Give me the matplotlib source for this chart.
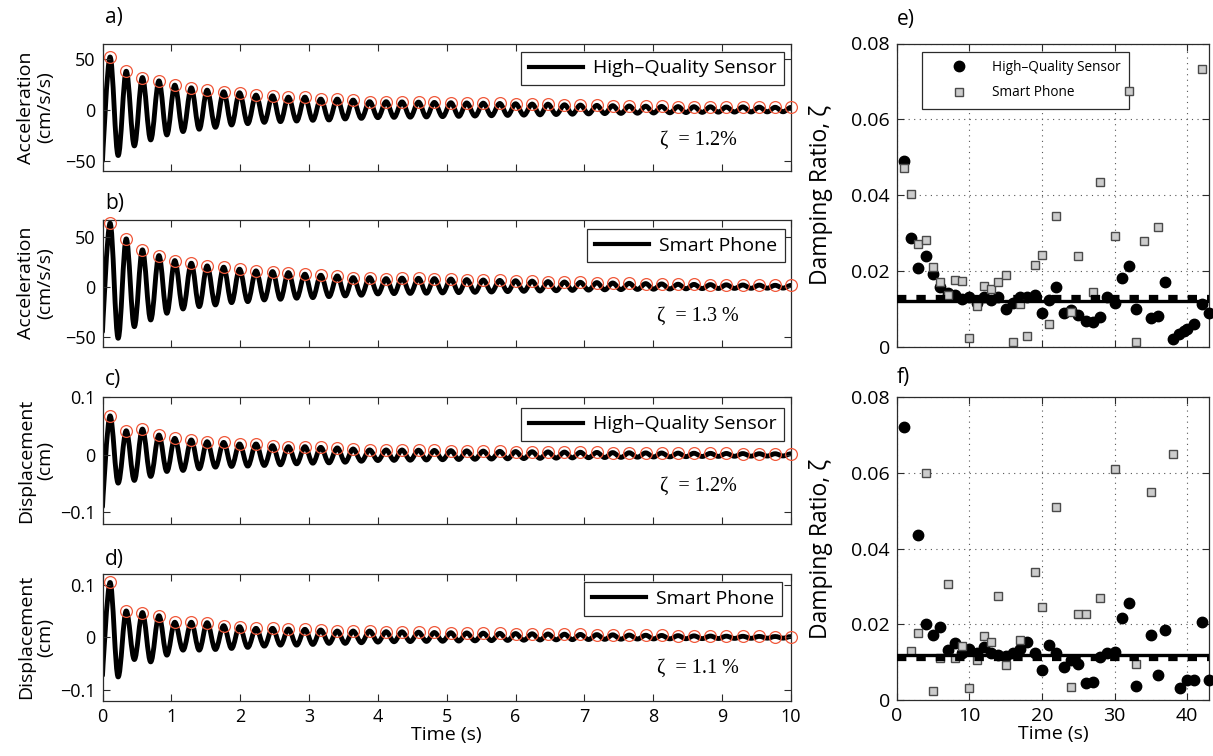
import numpy as np
import matplotlib
matplotlib.use("Agg")
import matplotlib.pyplot as plt
from matplotlib.path import Path
from matplotlib.patches import PathPatch
from matplotlib.lines import Line2D
from matplotlib.ticker import FuncFormatter

plt.rcParams['font.family'] = ['Open Sans', 'DejaVu Sans']

# ---------------- data: time histories (peak times / peak & trough values) -------------
peak_times = [0.11, 0.345, 0.58, 0.82, 1.05, 1.29, 1.52, 1.76, 1.99, 2.23, 2.47, 2.70,
              2.94, 3.17, 3.41, 3.64, 3.88, 4.12, 4.35, 4.59, 4.82, 5.06, 5.29, 5.53,
              5.77, 6.00, 6.24, 6.47, 6.71, 6.94, 7.18, 7.41, 7.65, 7.89, 8.12, 8.36,
              8.59, 8.83, 9.06, 9.30, 9.54, 9.77, 10.0]

acc_hq_start = -50.0
acc_hq_peaks = [52.2, 38.2, 32.0, 28.7, 24.5, 21.9, 19.6, 18.0, 17.0, 14.7, 14.0, 12.7,
                12.7, 10.8, 10.8, 9.8, 8.2, 8.2, 8.0, 7.8, 7.5, 7.2, 7.0, 6.8, 6.5, 6.2,
                5.9, 5.8, 5.2, 4.9, 4.6, 4.3, 4.0, 3.8, 3.6, 3.4, 3.3, 3.2, 3.0, 3.1, 2.9,
                2.7, 2.6]
acc_hq_troughs = [-44.8, -35.3, -29.4, -24.5, -21.2, -18.9, -17.0, -14.7, -13.4, -12.1,
                  -11.4, -10.8, -10.1, -9.8, -8.8, -8.2, -7.5, -7.2, -7.0, -6.8, -6.5,
                  -6.2, -5.9, -5.6, -5.3, -5.0, -4.7, -4.4, -4.1, -3.8, -3.5, -3.3, -3.1,
                  -2.9, -2.7, -2.5, -2.3, -2.1, -2.0, -1.9, -1.8, -1.7]

acc_sp_start = -45.0
acc_sp_peaks = [63.4, 47.7, 36.7, 31.0, 26.0, 23.4, 20.7, 19.4, 17.4, 15.7, 15.0, 14.0,
                12.4, 11.4, 10.7, 9.0, 9.0, 8.0, 8.5, 8.3, 8.0, 7.6, 7.0, 6.6, 6.2, 5.9,
                5.5, 5.0, 4.6, 4.3, 4.0, 3.6, 3.3, 3.0, 2.7, 2.4, 2.2, 2.0, 1.8, 1.6, 1.5,
                1.3, 1.2]
acc_sp_troughs = [-51.6, -40.0, -33.3, -26.6, -22.3, -20.0, -18.3, -16.0, -15.0, -13.3,
                  -12.6, -11.6, -11.0, -10.0, -9.3, -8.6, -7.3, -7.0, -6.8, -6.6, -6.3,
                  -6.0, -5.7, -5.4, -5.0, -4.7, -4.4, -4.1, -3.8, -3.5, -3.2, -3.0, -2.8,
                  -2.6, -2.4, -2.2, -2.0, -1.9, -1.8, -1.7, -1.6, -1.5]

dis_hq_start = -0.09
dis_hq_peaks = [0.0678, 0.0419, 0.0448, 0.0345, 0.0287, 0.0259, 0.0229, 0.0217, 0.019,
                0.019, 0.016, 0.0143, 0.0143, 0.0131, 0.0121, 0.0103, 0.0086, 0.0086,
                0.0085, 0.0082, 0.0078, 0.0074, 0.007, 0.0066, 0.0062, 0.0058, 0.0055,
                0.0052, 0.0049, 0.0046, 0.0043, 0.004, 0.0037, 0.0035, 0.0033, 0.0031,
                0.0029, 0.0027, 0.0025, 0.0023, 0.0021, 0.002, 0.0019]
dis_hq_troughs = [-0.049, -0.0443, -0.0374, -0.0288, -0.027, -0.0241, -0.0213, -0.020,
                  -0.0195, -0.0184, -0.0172, -0.0155, -0.0144, -0.0138, -0.0127, -0.011,
                  -0.0098, -0.0095, -0.0092, -0.0088, -0.0084, -0.008, -0.0076, -0.0072,
                  -0.0068, -0.0064, -0.006, -0.0056, -0.0052, -0.0049, -0.0046, -0.0043,
                  -0.004, -0.0037, -0.0034, -0.0031, -0.0028, -0.0026, -0.0024, -0.0022,
                  -0.002, -0.0018]

dis_sp_start = -0.072
dis_sp_peaks = [0.104, 0.050, 0.047, 0.041, 0.0286, 0.0286, 0.0278, 0.0221, 0.0202,
                0.0171, 0.0171, 0.0158, 0.0152, 0.0139, 0.012, 0.012, 0.012, 0.0107,
                0.0105, 0.0098, 0.0092, 0.0088, 0.0084, 0.008, 0.0076, 0.0072, 0.0068,
                0.0064, 0.006, 0.0056, 0.0052, 0.0048, 0.0044, 0.004, 0.0036, 0.0032,
                0.0028, 0.0025, 0.0022, 0.002, 0.0018, 0.0016, 0.0015]
dis_sp_troughs = [-0.075, -0.042, -0.0464, -0.0337, -0.0242, -0.0242, -0.023, -0.021,
                  -0.019, -0.0166, -0.0147, -0.0147, -0.0134, -0.0114, -0.0114, -0.0102,
                  -0.009, -0.0083, -0.008, -0.0077, -0.0074, -0.007, -0.0066, -0.0062,
                  -0.0058, -0.0054, -0.005, -0.0047, -0.0044, -0.0041, -0.0038, -0.0035,
                  -0.0032, -0.003, -0.0028, -0.0026, -0.0024, -0.0022, -0.002, -0.0018,
                  -0.0016, -0.0015]

zeta_labels = ["ζ  = 1.2%", "ζ  = 1.3 %", "ζ  = 1.2%", "ζ  = 1.1 %"]
series_labels = ["High–Quality Sensor", "Smart Phone", "High–Quality Sensor", "Smart Phone"]

# ---------------- data: damping ratio scatter --------------------------------------
e_hq_t = [1, 2, 3, 4, 5, 6, 7, 8, 9, 10, 11, 12, 13, 14, 15, 16, 17, 18, 19, 20, 21, 22,
          23, 24, 25, 26, 27, 28, 29, 30, 31, 32, 33, 35, 36, 37, 38, 38.9, 39.6, 40, 41,
          42, 43]
e_hq_z = [0.049, 0.0286, 0.0207, 0.0238, 0.0191, 0.0157, 0.0141, 0.0137, 0.0126, 0.0130,
          0.0115, 0.0132, 0.0122, 0.0132, 0.0099, 0.0115, 0.0132, 0.0130, 0.0137, 0.0090,
          0.0122, 0.0157, 0.0090, 0.0097, 0.0084, 0.0069, 0.0066, 0.0079, 0.0130, 0.0116,
          0.0181, 0.0214, 0.0099, 0.0077, 0.0081, 0.0170, 0.0019, 0.0033, 0.0042, 0.0047,
          0.0059, 0.0113, 0.0090]
e_sp_t = [1, 2, 3, 4, 5, 6, 7, 8, 9, 10, 11, 12, 13, 14, 15, 16, 17, 18, 19, 20, 21, 22,
          24, 25, 27, 28, 30, 32, 33, 34, 36, 42]
e_sp_z = [0.0472, 0.0404, 0.0271, 0.0282, 0.0209, 0.0172, 0.0137, 0.0176, 0.0174, 0.0024,
          0.0107, 0.0161, 0.0152, 0.0172, 0.0189, 0.0013, 0.0113, 0.0028, 0.0216, 0.0242,
          0.0059, 0.0345, 0.0091, 0.0240, 0.0145, 0.0435, 0.0292, 0.0674, 0.0013, 0.0278,
          0.0315, 0.0733]

f_hq_t = [1, 3, 4, 5, 6, 7, 8, 9, 10, 11, 12, 13, 14, 15, 16, 17, 18, 19, 20, 21, 22, 23,
          24, 25, 26, 27, 28, 29, 30, 31, 32, 33, 35, 36, 37, 39, 40, 41, 42, 43]
f_hq_z = [0.0721, 0.0437, 0.0201, 0.0172, 0.0194, 0.0132, 0.0150, 0.0123, 0.0134, 0.0123,
          0.0141, 0.0125, 0.0119, 0.0115, 0.0125, 0.0134, 0.0154, 0.0125, 0.0079, 0.0145,
          0.0125, 0.0086, 0.0107, 0.0094, 0.0046, 0.0048, 0.0113, 0.0125, 0.0128, 0.0218,
          0.0257, 0.0038, 0.0172, 0.0066, 0.0185, 0.0033, 0.0053, 0.0053, 0.0207, 0.0053]
f_sp_t = [2, 3, 4, 5, 6, 7, 8, 9, 10, 11, 12, 13, 14, 15, 17, 19, 20, 22, 24, 25, 26, 28,
          30, 33, 35, 38]
f_sp_z = [0.0130, 0.0178, 0.0600, 0.0024, 0.0112, 0.0307, 0.0112, 0.0143, 0.0033, 0.0106,
          0.0169, 0.0152, 0.0275, 0.0093, 0.0159, 0.0339, 0.0245, 0.0509, 0.0035, 0.0227,
          0.0227, 0.0269, 0.0611, 0.0095, 0.0550, 0.0650]

e_mean_hq, e_mean_sp = 0.012, 0.0128
f_mean_hq, f_mean_sp = 0.012, 0.011

# ---------------- figure ------------------------------------------------------------
W, H = 1213, 756
fig = plt.figure(figsize=(W / 100, H / 100), dpi=100)


def add_px_axes(l, t, r, b):
    return fig.add_axes([l / W, 1 - b / H, (r - l) / W, (b - t) / H])


SPINE = '#2b2b2b'
gfmt = FuncFormatter(lambda v, p: ('%g' % v).replace('-', '\u2212'))


def style_axes(ax, size):
    for s in ax.spines.values():
        s.set_color(SPINE)
        s.set_linewidth(0.9)
    ax.tick_params(direction='in', top=True, right=True, length=5, width=0.8,
                   color=SPINE, labelsize=size, pad=5)


def wave_path(start, peaks, troughs):
    ts = [0.0]
    ys = [start]
    for i in range(len(peaks)):
        ts.append(peak_times[i])
        ys.append(peaks[i])
        if i < len(troughs):
            ts.append(0.5 * (peak_times[i] + peak_times[i + 1]))
            ys.append(troughs[i])
    verts = [(ts[0], ys[0])]
    codes = [Path.MOVETO]
    for i in range(1, len(ts)):
        dt = ts[i] - ts[i - 1]
        c1 = (ts[i - 1], ys[i - 1]) if i == 1 else (ts[i - 1] + 0.36 * dt, ys[i - 1])
        verts += [c1, (ts[i] - 0.36 * dt, ys[i]), (ts[i], ys[i])]
        codes += [Path.CURVE4] * 3
    return Path(verts, codes)


left_boxes = [(102.5, 44, 791, 171), (102.5, 219.5, 791, 346.7),
              (102.5, 397.3, 791, 524), (102.5, 574, 791, 700.7)]
ylims = [(-60, 65), (-60, 67), (-0.12, 0.1), (-0.12, 0.12)]
yticks = [[-50, 0, 50], [-50, 0, 50], [-0.1, 0, 0.1], [-0.1, 0, 0.1]]
ylabels = ["Acceleration\n(cm/s/s)", "Acceleration\n(cm/s/s)",
           "Displacement\n(cm)", "Displacement\n(cm)"]
starts = [acc_hq_start, acc_sp_start, dis_hq_start, dis_sp_start]
peaks_all = [acc_hq_peaks, acc_sp_peaks, dis_hq_peaks, dis_sp_peaks]
troughs_all = [acc_hq_troughs, acc_sp_troughs, dis_hq_troughs, dis_sp_troughs]
leg_anchor = [(0.990, 0.940), (0.991, 0.926), (0.990, 0.919), (0.987, 0.934)]
zeta_pos = [(0.81, 0.244), (0.805, 0.241), (0.81, 0.30), (0.805, 0.256)]
panel_lbl = [("a)", 17), ("b)", 203), ("c)", 380), ("d)", 560)]

for k in range(4):
    ax = add_px_axes(*left_boxes[k])
    style_axes(ax, 13)
    ax.add_patch(PathPatch(wave_path(starts[k], peaks_all[k], troughs_all[k]),
                           fill=False, lw=3.5, ec='black', capstyle='round',
                           joinstyle='round'))
    ax.plot(peak_times, peaks_all[k], 'o', mfc='none', mec='#f0583a', ms=8.5,
            mew=0.9, clip_on=False, zorder=4)
    ax.set_xlim(0, 10)
    ax.set_ylim(*ylims[k])
    ax.set_yticks(yticks[k])
    ax.set_xticks(range(0, 11))
    ax.yaxis.set_major_formatter(gfmt)
    if k < 3:
        ax.set_xticklabels([])
    else:
        ax.set_xlabel("Time (s)", fontsize=14, labelpad=0)
    ax.set_ylabel(ylabels[k], fontsize=14, linespacing=1.1)
    ax.yaxis.set_label_coords(-0.07, 0.5)
    h = Line2D([], [], color='black', lw=3)
    leg = ax.legend([h], [series_labels[k]], loc='upper right',
                    bbox_to_anchor=leg_anchor[k], borderaxespad=0, fontsize=14,
                    handlelength=2.8, handletextpad=0.5, borderpad=0.4,
                    fancybox=False, framealpha=1)
    leg.get_frame().set_edgecolor(SPINE)
    leg.get_frame().set_linewidth(0.9)
    ax.text(zeta_pos[k][0], zeta_pos[k][1], zeta_labels[k], transform=ax.transAxes,
            ha='left', va='center', fontsize=14.5,
            family=['Liberation Serif', 'DejaVu Serif'])
    fig.text(105 / W, 1 - panel_lbl[k][1] / H, panel_lbl[k][0], ha='left',
             va='center', fontsize=15)

right_boxes = [(896.7, 43.5, 1209, 346.7), (896.7, 397.3, 1209, 700)]
scat = [(e_hq_t, e_hq_z, e_sp_t, e_sp_z, e_mean_hq, e_mean_sp),
        (f_hq_t, f_hq_z, f_sp_t, f_sp_z, f_mean_hq, f_mean_sp)]
for k in range(2):
    ax = add_px_axes(*right_boxes[k])
    style_axes(ax, 14)
    hq_t, hq_z, sp_t, sp_z, m_hq, m_sp = scat[k]
    ax.grid(True, linestyle=(0, (1, 4)), color='#555555', lw=0.8)
    ax.plot(hq_t, hq_z, 'o', color='black', ms=7.5, zorder=3, clip_on=False,
            label='High–Quality Sensor')
    ax.plot(sp_t, sp_z, 's', mfc='#cccccc', mec='#4a4a4a', mew=1.0, ms=6.2, zorder=4,
            clip_on=False, label='Smart Phone')
    ax.axhline(m_hq, color='black', lw=2.4, zorder=5)
    ax.axhline(m_sp, color='black', lw=4.5, ls=(0, (1.5, 1.6)), zorder=5)
    ax.set_xlim(0, 43)
    ax.set_ylim(0, 0.08)
    ax.set_xticks([0, 10, 20, 30, 40])
    ax.set_yticks([0, 0.02, 0.04, 0.06, 0.08])
    ax.yaxis.set_major_formatter(gfmt)
    ax.set_ylabel("Damping Ratio, ζ", fontsize=16.5)
    ax.yaxis.set_label_coords(-0.205, 0.5)
    if k == 0:
        ax.set_xticklabels([])
        leg = ax.legend(loc='upper left', bbox_to_anchor=(0.081, 0.972),
                        borderaxespad=0, fontsize=9.8, handletextpad=0.25,
                        borderpad=0.6, labelspacing=0.75, fancybox=False,
                        framealpha=1, handlelength=4.3)
        leg.get_frame().set_edgecolor(SPINE)
        leg.get_frame().set_linewidth(0.9)
        leg.set_zorder(3.5)
        fig.text(897 / W, 1 - 20 / H, "e)", ha='left', va='center', fontsize=15)
    else:
        ax.set_xlabel("Time (s)", fontsize=14, labelpad=0)
        fig.text(897 / W, 1 - 378 / H, "f)", ha='left', va='center', fontsize=15)

fig.savefig("out.png", dpi=100)
